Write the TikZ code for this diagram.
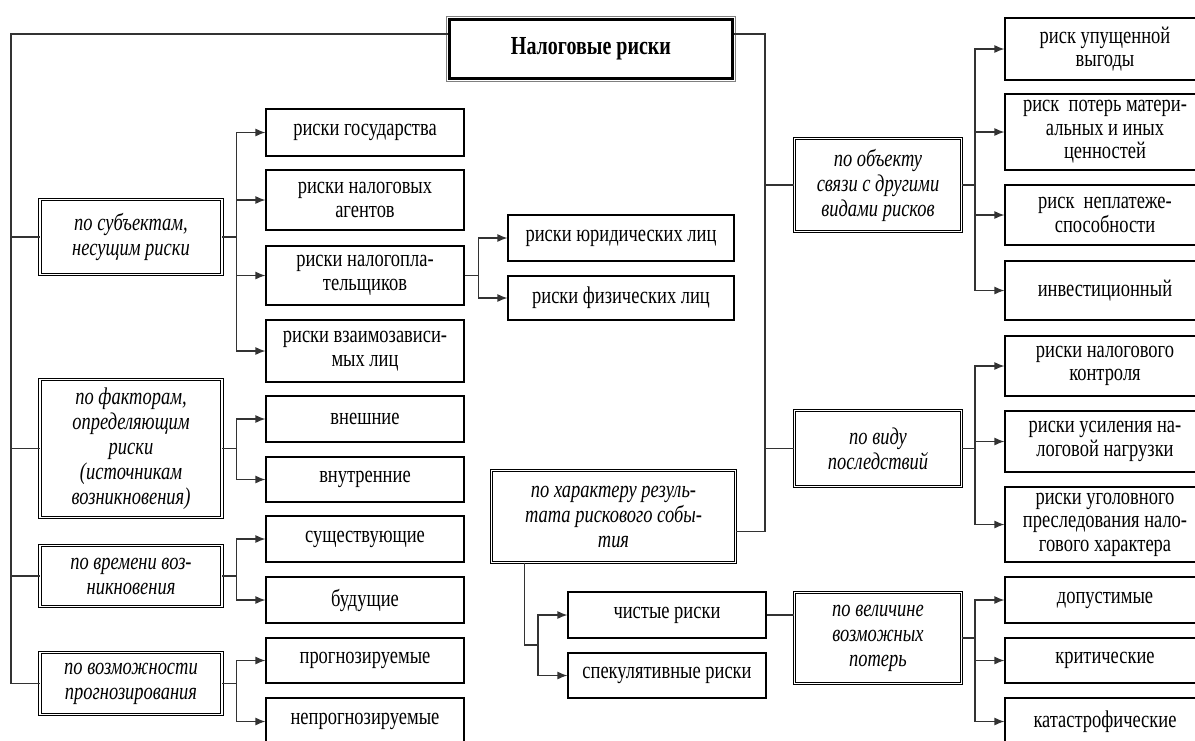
\documentclass[tikz,border=0pt]{standalone}
\usepackage{fontspec}
\setmainfont{Liberation Serif}[FakeStretch=0.77]
\usetikzlibrary{arrows.meta}

\begin{document}
\begin{tikzpicture}[
    x=1pt, y=-1pt,
    every node/.style={align=center, inner sep=0pt, font=\fontsize{24}{23.5}\selectfont},
    leaf/.style={draw, line width=1.2pt, minimum width=198pt},
    rleaf/.style={leaf, minimum width=200pt},
    cat/.style={draw, double, double distance=1.5pt, line width=0.8pt, minimum width=182pt, font=\fontsize{24}{25}\selectfont\itshape},
    link/.style={draw=black!80, line width=1.2pt},
    arr/.style={link, -{Latex[length=10pt, width=8pt]}}
  ]
  \useasboundingbox (0,0) rectangle (1195,740);
  \clip (0,0) rectangle (1195,740);

  % root
  \node[draw, line width=3.5pt, minimum width=283pt, minimum height=59pt, font=\fontsize{26}{28}\selectfont\bfseries] (main) at (591,49) {Налоговые риски};
  \draw[black!50, line width=0.8pt] ([shift={(-1.5pt,1.5pt)}]main.north west) rectangle ([shift={(1.5pt,-1.5pt)}]main.south east);

  % left branch
  \node[cat, minimum height=75pt] (subj) at (131,237) {по субъектам,\\несущим риски};
  \node[cat, minimum height=138pt] (fact) at (131,448.5) {по факторам,\\определяющим\\риски\\(источникам\\возникновения)};
  \node[cat, minimum height=61pt] (time) at (131,576) {по времени воз-\\никновения};
  \node[cat, minimum height=62pt] (prog) at (131,683.5) {по возможности\\прогнозирования};

  \node[leaf, minimum height=47pt] (gos) at (365,132.5) {риски государства};
  \node[leaf, minimum height=60pt] (agent) at (365,200) {риски налоговых\\агентов};
  \node[leaf, minimum height=59pt] (payer) at (365,275.5) {риски налогопла-\\тельщиков};
  \node[leaf, minimum height=62pt] (inter) at (365,351) {риски взаимозависи-\\мых лиц};
  \node[leaf, minimum height=46pt] (ext) at (365,419) {внешние};
  \node[leaf, minimum height=45pt] (int) at (365,479.5) {внутренние};
  \node[leaf, minimum height=46pt] (exist) at (365,539) {существующие};
  \node[leaf, minimum height=46pt] (fut) at (365,600) {будущие};
  \node[leaf, minimum height=45pt] (pred) at (365,660.5) {прогнозируемые};
  \node[leaf, minimum height=47pt] (unpred) at (365,721.5) {непрогнозируемые};

  \node[leaf, minimum width=226pt, minimum height=46pt] (jur) at (621,238) {риски юридических лиц};
  \node[leaf, minimum width=226pt, minimum height=44pt] (phys) at (621,298) {риски физических лиц};

  % right branch
  \node[cat, minimum width=167pt, minimum height=93pt] (obj) at (878,185) {по объекту\\связи с другими\\видами рисков};
  \node[cat, minimum width=167pt, minimum height=76pt] (vid) at (878,448.5) {по виду\\последствий};
  \node[cat, minimum width=244pt, minimum height=92pt] (char) at (613.5,516.5) {по характеру резуль-\\тата рискового собы-\\тия};
  \node[cat, minimum width=167pt, minimum height=91pt] (vel) at (878,638) {по величине\\возможных\\потерь};

  \node[leaf, minimum height=46pt] (pure) at (667,615) {чистые риски};
  \node[leaf, minimum height=45pt] (spec) at (667,675.5) {спекулятивные риски};

  \node[rleaf, minimum height=62pt] (lost) at (1105,49) {риск упущенной\\выгоды};
  \node[rleaf, minimum height=76pt] (loss) at (1105,132) {риск~ потерь матери-\\альных и иных\\ценностей};
  \node[rleaf, minimum height=60pt] (insolv) at (1105,215) {риск~ неплатеже-\\способности};
  \node[rleaf, minimum height=59pt] (invest) at (1105,290.5) {инвестиционный};
  \node[rleaf, minimum height=60pt] (ctrl) at (1105,366) {риски налогового\\контроля};
  \node[rleaf, minimum height=61pt] (burden) at (1105,441.5) {риски усиления на-\\логовой нагрузки};
  \node[rleaf, minimum height=75pt] (crim) at (1105,524.5) {риски уголовного\\преследования нало-\\гового характера};
  \node[rleaf, minimum height=46pt] (adm) at (1105,600) {допустимые};
  \node[rleaf, minimum height=45pt] (crit) at (1105,660.5) {критические};
  \node[rleaf, minimum height=47pt] (disaster) at (1105,721.5) {катастрофические};

  % trunks
  \coordinate (ltrunk) at (11,683.5);
  \coordinate (rtrunk) at (765,531.5);
  \coordinate (fork) at (538,645);
  \draw[link] ([yshift=15pt]main.west) -| (ltrunk) -- (prog.west);
  \foreach \n in {subj,fact,time}
    \draw[link] (\n.west) -- (\n.west -| ltrunk);
  \draw[link] ([yshift=15pt]main.east) -| (rtrunk) -- ([yshift=-15pt]char.east);
  \foreach \n in {obj,vid}
    \draw[link] (\n.west) -- (\n.west -| rtrunk);

  % fans
  \foreach \c in {gos,agent,payer,inter}
    \draw[arr] (subj.east) -- ++(14,0) |- (\c.west);
  \foreach \c in {ext,int}
    \draw[arr] (fact.east) -- ++(14,0) |- (\c.west);
  \foreach \c in {exist,fut}
    \draw[arr] (time.east) -- ++(14,0) |- (\c.west);
  \foreach \c in {pred,unpred}
    \draw[arr] (prog.east) -- ++(14,0) |- (\c.west);
  \foreach \c in {jur,phys}
    \draw[arr] (payer.east) -- ++(14,0) |- (\c.west);
  \foreach \c in {lost,loss,insolv,invest}
    \draw[arr] (obj.east) -- ++(13,0) |- (\c.west);
  \foreach \c in {ctrl,burden,crim}
    \draw[arr] (vid.east) -- ++(13,0) |- (\c.west);
  \foreach \c in {adm,crit,disaster}
    \draw[arr] (vel.east) -- ++(13,0) |- (\c.west);
  \draw[link] ([xshift=33pt]char.south west) |- (fork);
  \foreach \c in {pure,spec}
    \draw[arr] (fork) |- (\c.west);
  \draw[link] (pure.east) -- (pure.east -| vel.west);
\end{tikzpicture}
\end{document}
